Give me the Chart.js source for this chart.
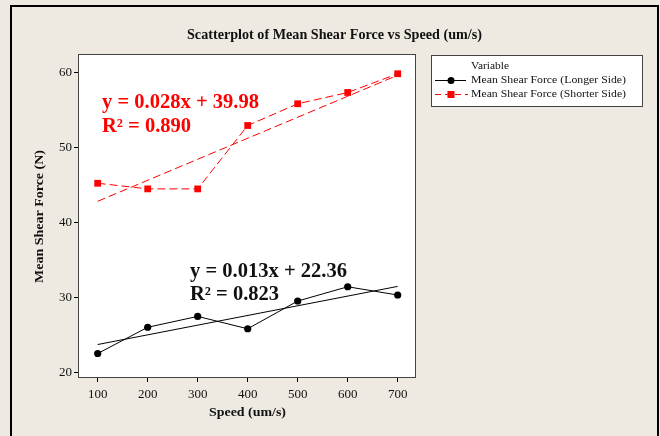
<!DOCTYPE html>
<html lang="en">
<head>
    <meta charset="UTF-8">
    <title>Scatterplot of Mean Shear Force vs Speed</title>
    <script src="https://cdn.jsdelivr.net/npm/chart.js"></script>
    <style>
        body {
            margin: 0;
            background-color: #eeeae1;
        }
        .wrap {
            width: 660px;
            height: 436px;
        }
    </style>
</head>
<body>

<div class="wrap">
    <canvas id="shearChart" width="660" height="436"></canvas>
</div>

<script>
    // data
    const speeds = [100, 200, 300, 400, 500, 600, 700];
    const longerSide = [22.5, 26.0, 27.45, 25.8, 29.5, 31.4, 30.3];
    const shorterSide = [45.2, 44.45, 44.45, 52.9, 55.8, 57.3, 59.8];

    // fitted lines, end points at speed 100 and 700
    const fitSpeeds = [100, 700];
    const longerFit = [23.7, 31.45];
    const shorterFit = [42.8, 59.6];

    const xTicks = [100, 200, 300, 400, 500, 600, 700];
    const yTicks = [20, 30, 40, 50, 60];

    const seriesNames = ['Mean Shear Force (Longer Side)', 'Mean Shear Force (Shorter Side)'];
    const longerEq = ['y = 0.013x + 22.36', 'R\u00b2 = 0.823'];
    const shorterEq = ['y = 0.028x + 39.98', 'R\u00b2 = 0.890'];

    const toPoints = (xs, ys) => xs.map((x, i) => ({ x: x, y: ys[i] }));

    const serif = '"Liberation Serif", "Times New Roman", serif';

    // draw text squeezed to a given width (the original uses a narrow Times)
    function fitText(ctx, text, x, y, width, font, color, align) {
        ctx.save();
        ctx.font = font;
        ctx.fillStyle = color;
        ctx.textBaseline = 'middle';
        ctx.textAlign = 'left';
        const w = ctx.measureText(text).width;
        const sx = width / w;
        let left = x;
        if (align === 'center') left = x - width / 2;
        ctx.translate(left, y);
        ctx.scale(sx, 1);
        ctx.fillText(text, 0, 0);
        ctx.restore();
    }

    const decorPlugin = {
        id: 'decor',
        beforeDraw(chart) {
            const ctx = chart.ctx;
            const a = chart.chartArea;
            ctx.save();
            ctx.fillStyle = '#eeeae1';
            ctx.fillRect(0, 0, chart.width, chart.height);
            // outer frame
            ctx.strokeStyle = '#000';
            ctx.lineWidth = 2;
            ctx.beginPath();
            ctx.moveTo(11, 440);
            ctx.lineTo(11, 6);
            ctx.lineTo(658, 6);
            ctx.lineTo(658, 440);
            ctx.stroke();
            // plot area
            ctx.fillStyle = '#fff';
            ctx.fillRect(a.left, a.top, a.right - a.left, a.bottom - a.top);
            ctx.restore();
        },
        afterDraw(chart) {
            const ctx = chart.ctx;
            const a = chart.chartArea;
            ctx.save();
            ctx.strokeStyle = '#444';
            ctx.lineWidth = 1;
            ctx.strokeRect(a.left - 0.5, a.top - 0.5, a.right - a.left + 1, a.bottom - a.top + 1);
            ctx.restore();

            // title and axis titles
            fitText(ctx, 'Scatterplot of Mean Shear Force vs Speed (um/s)', 334.5, 35, 295,
                'bold 14px ' + serif, '#111', 'center');
            fitText(ctx, 'Speed (um/s)', 247.5, 413, 77, 'bold 13px ' + serif, '#111', 'center');
            ctx.save();
            ctx.translate(40, 216.5);
            ctx.rotate(-Math.PI / 2);
            fitText(ctx, 'Mean Shear Force (N)', 0, 0, 133, 'bold 13px ' + serif, '#111', 'center');
            ctx.restore();

            // equations
            const eqFont = 'bold 20px ' + serif;
            fitText(ctx, shorterEq[0], 102, 103, 157, eqFont, '#ff0000', 'left');
            fitText(ctx, shorterEq[1], 102, 127, 89, eqFont, '#ff0000', 'left');
            fitText(ctx, longerEq[0], 190, 272, 157, eqFont, '#111', 'left');
            fitText(ctx, longerEq[1], 190, 295, 89, eqFont, '#111', 'left');

            // legend box
            ctx.save();
            ctx.fillStyle = '#fff';
            ctx.fillRect(431, 55, 211, 51);
            ctx.strokeStyle = '#444';
            ctx.lineWidth = 1;
            ctx.strokeRect(431.5, 55.5, 211, 51);
            ctx.restore();
            fitText(ctx, 'Variable', 471, 66, 38, '11px ' + serif, '#111', 'left');
            fitText(ctx, seriesNames[0], 471, 80.5, 155, '11px ' + serif, '#111', 'left');
            fitText(ctx, seriesNames[1], 471, 94.5, 155, '11px ' + serif, '#111', 'left');

            ctx.save();
            ctx.lineWidth = 1;
            ctx.strokeStyle = '#000';
            ctx.beginPath();
            ctx.moveTo(435, 80.5);
            ctx.lineTo(466, 80.5);
            ctx.stroke();
            ctx.fillStyle = '#000';
            ctx.beginPath();
            ctx.arc(451, 80.5, 3.5, 0, Math.PI * 2);
            ctx.fill();
            ctx.strokeStyle = '#ff0000';
            ctx.setLineDash([6, 4]);
            ctx.beginPath();
            ctx.moveTo(435, 94.5);
            ctx.lineTo(468, 94.5);
            ctx.stroke();
            ctx.fillStyle = '#ff0000';
            ctx.fillRect(447.5, 91, 7, 7);
            ctx.restore();
        }
    };

    const ctxShear = document.getElementById('shearChart').getContext('2d');
    const shearChart = new Chart(ctxShear, {
        type: 'scatter',
        data: {
            datasets: [
                {
                    label: seriesNames[0],
                    data: toPoints(speeds, longerSide),
                    showLine: true,
                    borderColor: '#000',
                    backgroundColor: '#000',
                    borderWidth: 1,
                    pointStyle: 'circle',
                    pointRadius: 3.6,
                    pointBorderWidth: 0
                },
                {
                    label: seriesNames[1],
                    data: toPoints(speeds, shorterSide),
                    showLine: true,
                    borderColor: '#ff0000',
                    backgroundColor: '#ff0000',
                    borderWidth: 1,
                    borderDash: [8, 4],
                    pointStyle: 'rect',
                    pointRadius: 4.8,
                    pointBorderWidth: 0
                },
                {
                    label: 'fit longer',
                    data: toPoints(fitSpeeds, longerFit),
                    showLine: true,
                    borderColor: '#000',
                    borderWidth: 1,
                    pointRadius: 0
                },
                {
                    label: 'fit shorter',
                    data: toPoints(fitSpeeds, shorterFit),
                    showLine: true,
                    borderColor: '#ff0000',
                    borderWidth: 1,
                    borderDash: [8, 4],
                    pointRadius: 0
                }
            ]
        },
        options: {
            responsive: false,
            animation: false,
            layout: {
                padding: { left: 0, top: 55, right: 245, bottom: 0 }
            },
            plugins: {
                legend: { display: false },
                tooltip: { enabled: false }
            },
            scales: {
                x: {
                    type: 'linear',
                    min: 62.6,
                    max: 734.6,
                    afterBuildTicks: (scale) => { scale.ticks = xTicks.map(v => ({ value: v })); },
                    afterFit: (scale) => { scale.height = 59; },
                    grid: { display: true, drawOnChartArea: false, color: '#000', tickLength: 5 },
                    border: { display: false },
                    ticks: {
                        color: '#111',
                        padding: 5,
                        maxRotation: 0,
                        autoSkip: false,
                        font: { family: serif, size: 13 }
                    }
                },
                y: {
                    min: 19.37,
                    max: 62.3,
                    afterBuildTicks: (scale) => { scale.ticks = yTicks.map(v => ({ value: v })); },
                    afterFit: (scale) => { scale.width = 79; },
                    grid: { display: true, drawOnChartArea: false, color: '#000', tickLength: 5 },
                    border: { display: false },
                    ticks: {
                        color: '#111',
                        padding: 2,
                        autoSkip: false,
                        font: { family: serif, size: 13 }
                    }
                }
            }
        },
        plugins: [decorPlugin]
    });
</script>

</body>
</html>
